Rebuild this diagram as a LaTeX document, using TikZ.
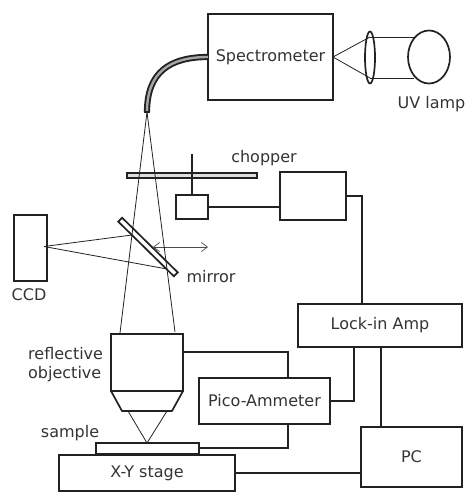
\documentclass[tikz,border=0pt]{standalone}
\usepackage{fontspec}
\setmainfont{DejaVu Sans}
\usetikzlibrary{shapes.geometric,arrows.meta,calc}
\definecolor{inkdark}{HTML}{222222}
\tikzset{
    box/.style={draw=inkdark, line width=1.7pt, rectangle, inner sep=0pt, outer sep=0pt, text=black!80},
    wire/.style={draw=inkdark, line width=1.7pt, line join=miter},
    ray/.style={draw=inkdark, line width=0.8pt},
    label/.style={inner sep=0pt, text=black!80},
}
\begin{document}
\begin{tikzpicture}[x=1pt,y=-1pt,font=\fontsize{16}{18}\selectfont]
    \useasboundingbox (0,0) rectangle (466,493);

    % boxes
    \node[box, minimum width=125pt, minimum height=86pt] (spectrometer) at (270.5,57) {Spectrometer};
    \node[box, minimum width=66pt, minimum height=48pt] (amp) at (313,196) {};
    \node[box, minimum width=32pt, minimum height=24pt] (motor) at (192,207) {};
    \node[box, minimum width=164pt, minimum height=43pt] (lockin) at (380,325.5) {Lock-in Amp};
    \node[box, minimum width=131pt, minimum height=46pt] (pico) at (264.5,401) {Pico-Ammeter};
    \node[box, minimum width=101pt, minimum height=60pt] (pc) at (411.5,457) {PC};
    \node[box, minimum width=33pt, minimum height=66pt] (ccd) at (30.5,248) {};
    \node[box, minimum width=72pt, minimum height=57pt] (objective) at (147,362.5) {};
    \node[box, minimum width=176pt, minimum height=36pt] (stage) at (147,473) {X-Y stage};
    \node[box, minimum width=103pt, minimum height=11pt] (sample) at (147.5,448.5) {};
    \draw[wire, line width=2.4pt] (sample.south west) -- (sample.south east);

    % lamp side
    \node[box, ellipse, minimum width=10pt, minimum height=52pt] (lens) at (370,57.5) {};
    \node[box, ellipse, minimum width=42pt, minimum height=53pt] (lamp) at (429,57) {};
    \coordinate (lenstop) at (370,37);
    \coordinate (lensbot) at (370,78);
    \draw[ray] (spectrometer.east) -- (lenstop);
    \draw[ray] (spectrometer.east) -- (lensbot);
    \draw[ray] (lenstop) -- (lamp.north west |- lenstop);
    \draw[ray] (lensbot) -- (lamp.south west |- lensbot);

    % fibre
    \coordinate (fibreend) at (147,112);
    \draw[draw=inkdark, line width=1.9pt, double=gray!70, double distance=2.4pt]
        (spectrometer.west) .. controls (170,57) and (147,72) .. (fibreend);
    \draw[draw=inkdark, line width=1.6pt] (143.6,112.2) -- (150.4,112.2);

    % chopper
    \node[box, line width=1.2pt, fill=gray!25, minimum width=130pt, minimum height=5pt] (disk) at (192,175.5) {};
    \coordinate (shafttop) at (192,154);
    \draw[wire] (shafttop) -- (motor.north);
    \draw[wire] (motor.east) -- (amp.west |- motor.east);

    % mirror
    \node[box, fill=white, rotate=-44.5, minimum width=78pt, minimum height=5.5pt] (mirror) at (148,247) {};
    \coordinate (arrowleft) at (153,247);
    \coordinate (arrowright) at (208,247);
    \draw[{Straight Barb[length=6pt,width=9pt]}-{Straight Barb[length=6pt,width=9pt]}, draw=black!70, line width=0.7pt]
        (arrowleft) -- (arrowright);

    % rays
    \coordinate (objleft) at (120,333);
    \coordinate (objright) at (175,332);
    \draw[ray] (fibreend) -- (objleft);
    \draw[ray] (fibreend) -- (objright);
    \coordinate (ccdfocus) at (44,246.5);
    \foreach \x / \y in {132/235, 167/269}
    {
        \draw[ray] (ccdfocus) -- (\x,\y);
    }

    % objective
    \coordinate (noseleft) at (122,411);
    \coordinate (noseright) at (172,411);
    \draw[wire, line join=round] (objective.south west) -- (noseleft) -- (noseright) -- (objective.south east);
    \coordinate (focus) at (147,443);
    \coordinate (coneleft) at (128,411);
    \coordinate (coneright) at (167,411);
    \draw[ray] (coneleft) -- (focus) -- (coneright);

    % wires
    \coordinate (ampdrop) at (362,196);
    \draw[wire] (amp.east |- ampdrop) -- (ampdrop) -- (ampdrop |- lockin.north);
    \coordinate (lockdrop) at (354,347);
    \draw[wire] (lockdrop) |- (pico.east);
    \coordinate (pcdrop) at (381,347);
    \draw[wire] (pcdrop) -- (pcdrop |- pc.north);
    \coordinate (objout) at (183,352);
    \coordinate (picotap) at (288,378);
    \draw[wire] (objout) -| (picotap);
    \coordinate (picotapb) at (288,424);
    \coordinate (sampleout) at (199,448);
    \draw[wire] (picotapb) |- (sampleout);
    \draw[wire] (stage.east) -- (stage.east -| pc.west);

    % labels
    \node[label] (uvlabel) at (431.5,104) {UV lamp};
    \node[label] (chopperlabel) at (264,158) {chopper};
    \node[label] (mirrorlabel) at (211,277) {mirror};
    \node[label] (ccdlabel) at (29,295) {CCD};
    \node[label, anchor=west] (reflabel) at (28,354) {reflective};
    \node[label, anchor=west] (objlabel) at (28,374) {objective};
    \node[label] (samplelabel) at (70,433) {sample};
\end{tikzpicture}
\end{document}
